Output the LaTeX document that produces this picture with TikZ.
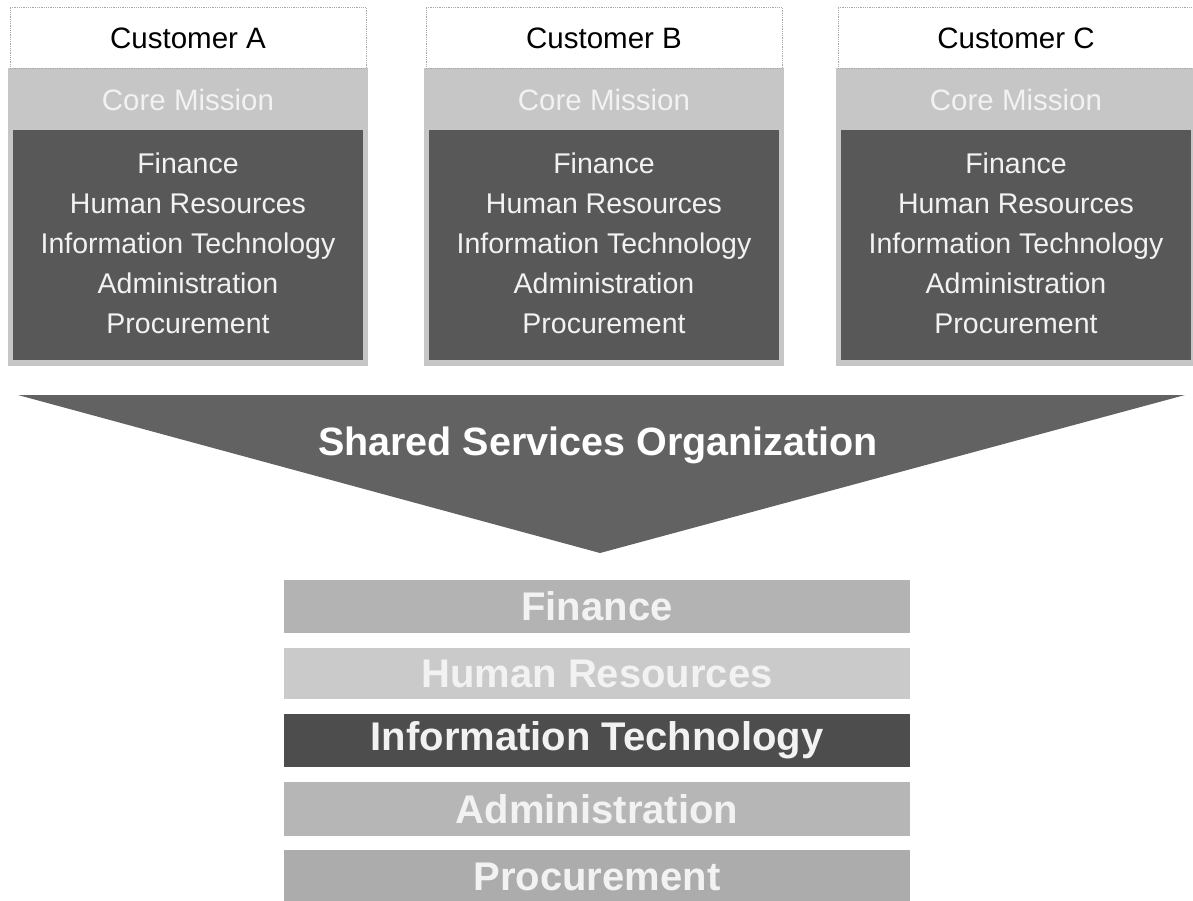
\documentclass[tikz,border=0pt]{standalone}
\usepackage{fontspec}
\setmainfont{Liberation Sans}
\definecolor{coreband}{HTML}{C6C6C6}
\definecolor{darkbox}{HTML}{585858}
\definecolor{tri}{HTML}{626262}
\definecolor{barfin}{HTML}{B3B3B3}
\definecolor{barhr}{HTML}{CACACA}
\definecolor{barit}{HTML}{4D4D4D}
\definecolor{baradm}{HTML}{B6B6B6}
\definecolor{barpro}{HTML}{ACACAC}
\definecolor{hdrline}{HTML}{A8A8A8}
\definecolor{softwhite}{HTML}{F2F2F2}
\begin{document}
\begin{tikzpicture}[x=1pt,y=-1pt,
  hdr/.style={draw=hdrline, densely dotted, line width=0.8pt, fill=white, inner sep=0pt,
    minimum width=356pt, minimum height=61pt, font=\fontsize{29.5}{34}\selectfont, text=black},
  band/.style={fill=coreband, inner sep=0pt, minimum width=360pt, minimum height=298pt},
  dark/.style={fill=darkbox, inner sep=0pt, minimum width=350pt, minimum height=230pt},
  coretext/.style={font=\fontsize{29.5}{34}\selectfont, text=softwhite, inner sep=0pt},
  listtext/.style={font=\fontsize{28.5}{40}\selectfont, text=softwhite, align=center, inner sep=0pt},
  bar/.style={inner sep=0pt, minimum width=626pt, minimum height=53pt,
    font=\fontsize{40}{42}\selectfont\bfseries, text=softwhite},
  sso/.style={font=\fontsize{39.5}{42}\selectfont\bfseries, text=white, inner sep=0pt}]
\useasboundingbox (0,0) rectangle (1193,901);
\fill[white] (0,0) rectangle (1193,901);
% customer columns
\foreach \nm/\cx/\lab in {A/188/Customer A, B/604/Customer B, C/1016/Customer C}{
  \node[band] (band\nm) at (\cx,217) {};
  \node[hdr] (hdr\nm) at (\cx,38) {\lab};
  \node[coretext] (core\nm) at (\cx,100) {Core Mission};
  \node[dark] (dark\nm) at (\cx,245) {};
  \node[listtext] (list\nm) at (\cx,243) {Finance\\Human Resources\\Information Technology\\Administration\\Procurement};
}
% shared services triangle
\coordinate (tl) at (18,395);
\coordinate (tr) at (1185,395);
\coordinate (apex) at (600,553);
\fill[tri] (tl) -- (tr) -- (apex) -- cycle;
\node[sso] (ssolab) at (598,445) {Shared Services Organization};
% service bars
\node[bar, fill=barfin] (fin) at (597,606.5) {Finance};
\node[bar, fill=barhr, minimum height=51pt] (hr) at (597,673.5) {Human Resources};
\node[bar, fill=barit] (it) at (597,740.5) {Information Technology};
\node[bar, fill=baradm, minimum height=54pt] (adm) at (597,809) {Administration};
\node[bar, fill=barpro] (pro) at (597,876.5) {Procurement};
\end{tikzpicture}
\end{document}
